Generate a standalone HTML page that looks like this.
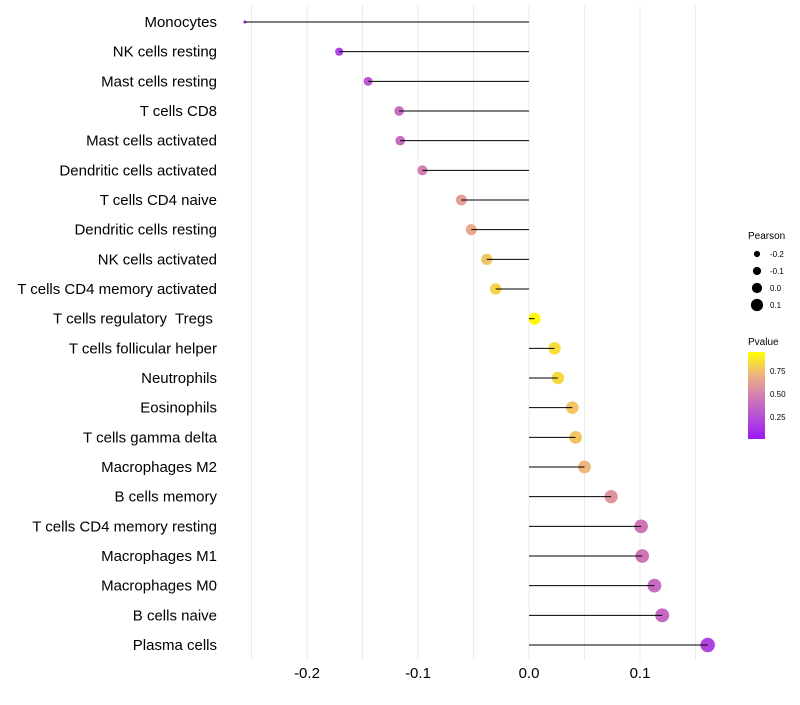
<!DOCTYPE html>
<html><head><meta charset="utf-8"><style>
body{margin:0;background:#fff;font-family:"Liberation Sans",sans-serif}
text{white-space:pre}
</style></head><body>
<svg id="c" width="800" height="700" xmlns="http://www.w3.org/2000/svg">
<defs><linearGradient id="pg" x1="0" y1="1" x2="0" y2="0">
<stop offset="0" stop-color="#9b19f5"/><stop offset="0.25" stop-color="#b44fd8"/><stop offset="0.5" stop-color="#d37fb0"/><stop offset="0.75" stop-color="#eeb67d"/><stop offset="1" stop-color="#ffff00"/>
</linearGradient></defs>
<g id="grid"></g><g id="marks"></g><g id="stems"></g><g id="labels"></g><g id="ticks"></g>
<g id="legend">
<text x="748" y="239" font-size="10">Pearson</text>
<text x="748" y="345" font-size="10">Pvalue</text>
<rect x="748" y="352" width="17" height="87" fill="url(#pg)"/>
<text x="770" y="374" font-size="8">0.75</text>
<text x="770" y="397" font-size="8">0.50</text>
<text x="770" y="420" font-size="8">0.25</text>
</g>
</svg>
<script>
const categories=["Monocytes","NK cells resting","Mast cells resting","T cells CD8","Mast cells activated","Dendritic cells activated","T cells CD4 naive","Dendritic cells resting","NK cells activated","T cells CD4 memory activated","T cells regulatory  Tregs ","T cells follicular helper","Neutrophils","Eosinophils","T cells gamma delta","Macrophages M2","B cells memory","T cells CD4 memory resting","Macrophages M1","Macrophages M0","B cells naive","Plasma cells"];
const pearson=[-0.256,-0.171,-0.145,-0.117,-0.116,-0.096,-0.061,-0.052,-0.038,-0.030,0.005,0.023,0.026,0.039,0.042,0.050,0.074,0.101,0.102,0.113,0.120,0.161];
const pvalues=[0.05,0.2,0.3,0.4,0.4,0.5,0.65,0.7,0.8,0.85,0.98,0.88,0.87,0.8,0.8,0.75,0.6,0.45,0.45,0.4,0.38,0.2];
const xTicks=[-0.2,-0.1,0.0,0.1];
const xTickLabels=["-0.2","-0.1","0.0","0.1"];
const gridVals=[-0.25,-0.2,-0.15,-0.1,-0.05,0,0.05,0.1,0.15];
const sizeLegend=[-0.2,-0.1,0.0,0.1];
const NS="http://www.w3.org/2000/svg";
const X=v=>529+v*1110;
const Y=i=>22+i*(623/21);
const pmin=Math.min(...pearson),pmax=Math.max(...pearson);
const D=v=>3+11.5*Math.sqrt(Math.max(0,(v-pmin)/(pmax-pmin)));
const stops=[[0,[155,25,245]],[0.25,[180,79,216]],[0.5,[211,127,176]],[0.75,[238,182,125]],[1,[255,255,0]]];
function col(p){for(let k=1;k<stops.length;k++){if(p<=stops[k][0]){const a=stops[k-1],b=stops[k],t=(p-a[0])/(b[0]-a[0]);return `rgb(${a[1].map((c,j)=>Math.round(c+(b[1][j]-c)*t)).join(',')})`;}}return 'rgb(255,255,0)';}
function mk(tag,attrs,parent){const e=document.createElementNS(NS,tag);for(const k in attrs)e.setAttribute(k,attrs[k]);document.getElementById(parent).appendChild(e);return e;}
gridVals.forEach(v=>{const l=mk('line',{x1:X(v),x2:X(v),y1:5,y2:660,stroke:'#ebebeb','stroke-width':1},'grid');

});
categories.forEach((c,i)=>{const y=Y(i),v=pearson[i];
const ci=mk('circle',{cx:X(v),cy:y,r:D(v)/2,fill:col(pvalues[i])},'marks');


const ln=mk('line',{x1:X(0),x2:X(v),y1:y,y2:y,stroke:'#000','stroke-width':1},'stems');


const t=mk('text',{x:217,y:y+5,'text-anchor':'end','font-size':15,fill:'#000'},'labels');t.textContent=c;

});
xTicks.forEach((v,i)=>{const t=mk('text',{x:X(v),y:678,'text-anchor':'middle','font-size':15,fill:'#000'},'ticks');t.textContent=xTickLabels[i];

});
sizeLegend.forEach((v,i)=>{const y=254+i*17;
const c=mk('circle',{cx:757,cy:y,r:(5+i*2)/2+0.6,fill:'#000'},'legend');


const t=mk('text',{x:770,y:y+3,'font-size':8},'legend');t.textContent=v.toFixed(1);

});
</script>
</body></html>
